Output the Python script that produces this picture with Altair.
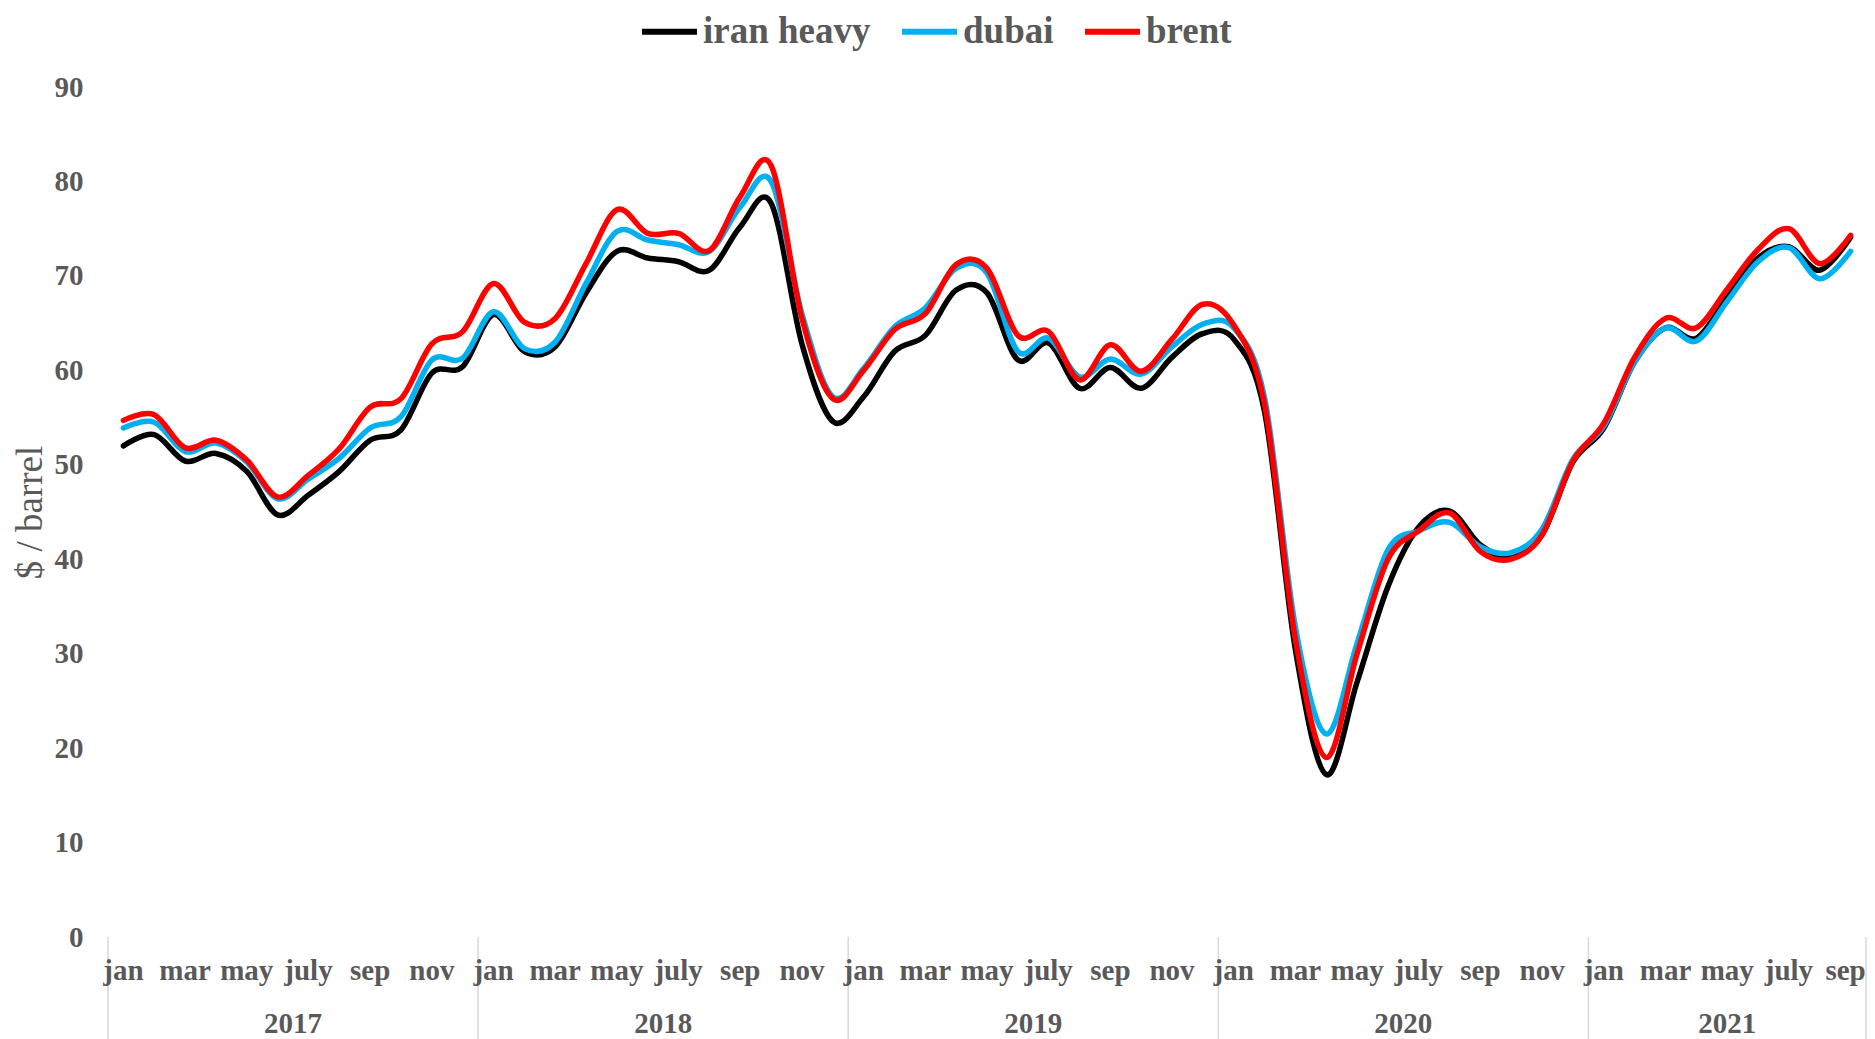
import altair as alt
import pandas as pd

# ---------------- data ----------------
month_names = ["jan", "feb", "mar", "apr", "may", "jun", "july", "aug", "sep", "oct", "nov", "dec"]
years = ["2017", "2018", "2019", "2020", "2021"]
months_in_year = [12, 12, 12, 12, 9]
series_names = ["iran heavy", "dubai", "brent"]
series_colors = ["#000000", "#00B0F0", "#FF0000"]

iran_heavy = [52.0, 53.2, 50.4, 51.2, 49.3, 44.7, 46.8, 49.3, 52.6, 53.7, 59.7, 60.4,
              65.9, 62.0, 62.5, 68.2, 72.6, 71.9, 71.5, 70.6, 75.2, 77.7, 62.8, 54.6,
              57.2, 62.0, 63.7, 68.5, 68.2, 61.1, 62.9, 58.1, 60.3, 58.1, 61.4, 63.9,
              63.3, 55.6, 30.4, 17.2, 27.0, 37.1, 43.4, 45.1, 41.5, 40.2, 42.6, 50.3,
              53.9, 60.9, 64.5, 63.4, 67.7, 71.9, 73.1, 70.6, 74.1]
dubai = [53.9, 54.5, 51.4, 52.3, 50.3, 46.4, 48.5, 50.7, 53.9, 55.1, 61.1, 61.3,
         66.2, 62.3, 63.0, 69.2, 74.7, 73.8, 73.3, 72.6, 77.3, 80.0, 66.0, 57.2,
         60.2, 64.6, 66.6, 70.8, 70.3, 62.0, 63.4, 59.3, 61.2, 59.6, 62.5, 64.9,
         64.5, 57.1, 32.8, 21.5, 31.1, 41.0, 43.0, 43.9, 41.3, 40.7, 43.2, 50.6,
         54.1, 60.9, 64.5, 63.1, 67.3, 71.5, 73.0, 69.7, 72.6]
brent = [54.7, 55.3, 51.8, 52.6, 50.5, 46.6, 48.9, 51.7, 56.1, 57.0, 62.8, 64.1,
         69.2, 65.1, 65.5, 71.3, 77.0, 74.5, 74.5, 72.7, 78.4, 81.7, 65.5, 57.0,
         60.0, 64.3, 66.0, 71.2, 70.8, 63.7, 64.1, 59.0, 62.7, 59.9, 63.3, 67.0,
         64.8, 56.4, 31.5, 19.0, 30.0, 40.0, 43.0, 44.9, 40.8, 40.0, 42.6, 50.4,
         54.4, 61.4, 65.5, 64.5, 68.6, 72.8, 75.0, 71.3, 74.3]

# ---------------- tables ----------------
rows = []
for name, vals in zip(series_names, [iran_heavy, dubai, brent]):
    for i, v in enumerate(vals):
        rows.append({"idx": i, "series": name, "price": v})
df = pd.DataFrame(rows)

n = len(brent)
month_df = pd.DataFrame({"idx": list(range(0, n, 2)),
                         "label": [month_names[i % 12] for i in range(0, n, 2)]})
last_idx = int(month_df["idx"].max())

bounds = [-0.5]
for m in months_in_year:
    bounds.append(bounds[-1] + m)
div_df = pd.DataFrame({"pos": bounds})
year_df = pd.DataFrame({"year": years,
                        "pos": [(bounds[k] + bounds[k + 1]) / 2 for k in range(len(years))]})

W, H = 1758, 850
FONT = "Liberation Serif"
GRAY = "#595959"
LINEGRAY = "#D9D9D9"

xscale = alt.Scale(domain=[-0.5, n - 0.5], nice=False, zero=False)

x_axis = alt.Axis(values=list(range(0, n, 2)), labels=False, title=None,
                  ticks=False, grid=False, domainColor=LINEGRAY, domainWidth=1.5)

lines = alt.Chart(df).mark_line(
    interpolate="cardinal", strokeWidth=5.5, strokeCap="round", strokeJoin="round"
).encode(
    x=alt.X("idx:Q", scale=xscale, axis=x_axis),
    y=alt.Y("price:Q", scale=alt.Scale(domain=[0, 90], nice=False),
            axis=alt.Axis(values=list(range(0, 91, 10)), title="$ / barrel",
                          domain=False, ticks=False, grid=False,
                          labelFont=FONT, labelFontSize=29, labelFontWeight="bold",
                          labelColor=GRAY, labelPadding=25,
                          titleFont=FONT, titleFontSize=37, titleFontWeight="normal",
                          titleColor=GRAY, titleAngle=270, titleX=-67, titleY=H / 2,
                          titleBaseline="alphabetic", titleAlign="center")),
    color=alt.Color("series:N", sort=series_names,
                    scale=alt.Scale(domain=series_names, range=series_colors),
                    legend=alt.Legend(title=None, orient="none", direction="horizontal",
                                      legendX=531, legendY=-86,
                                      labelFont=FONT, labelFontSize=37, labelFontWeight="bold",
                                      labelColor=GRAY, labelLimit=0, symbolType="stroke",
                                      symbolStrokeWidth=6, symbolSize=3025,
                                      labelOffset=3, columnPadding=19, padding=0)),
)

rules = alt.Chart(div_df).mark_rule(color=LINEGRAY, strokeWidth=1.5).encode(
    x=alt.X("pos:Q", scale=xscale, axis=None),
    y=alt.value(H),
    y2=alt.value(H + 102),
)

month_base = alt.Chart(month_df).encode(
    x=alt.X("idx:Q", scale=xscale, axis=None),
    y=alt.value(H + 43),
    text="label:N",
)
month_text = month_base.mark_text(
    font=FONT, fontSize=29, fontWeight="bold", color=GRAY, baseline="alphabetic"
).transform_filter(alt.datum.idx < last_idx)
month_last = month_base.mark_text(
    font=FONT, fontSize=29, fontWeight="bold", color=GRAY, baseline="alphabetic", dx=-5
).transform_filter(alt.datum.idx == last_idx)

year_text = alt.Chart(year_df).mark_text(
    font=FONT, fontSize=29, fontWeight="bold", color=GRAY, baseline="alphabetic"
).encode(
    x=alt.X("pos:Q", scale=xscale, axis=None),
    y=alt.value(H + 96),
    text="year:N",
)

chart = alt.layer(lines, rules, month_text, month_last, year_text).properties(
    width=W, height=H,
    autosize=alt.AutoSizeParams(type="none"),
    padding={"left": 100, "top": 79, "right": 1, "bottom": 102},
).configure_view(stroke=None)

chart.save("out.html", embed_options={"renderer": "svg", "actions": False})
